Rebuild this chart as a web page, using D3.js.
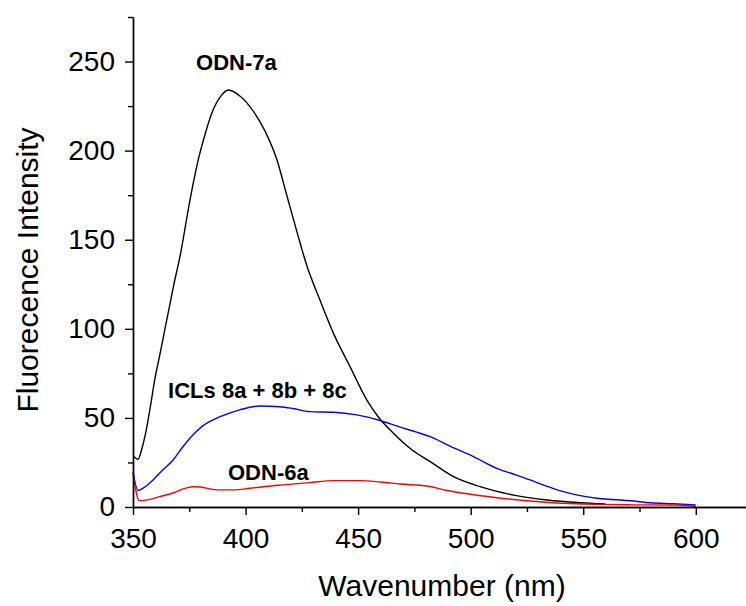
<!DOCTYPE html>
<html>
<head>
<meta charset="utf-8">
<script src="https://cdn.jsdelivr.net/npm/d3@7"></script>
<style>
  body { margin: 0; background: #fff; }
  svg text { font-family: "Liberation Sans", Arial, sans-serif; }
</style>
</head>
<body>
<svg id="chart" width="746" height="606"></svg>
<script>
// ODN-7a (black)
const odn7aX = [350, 352.2, 354, 355.9, 357.8, 359.6, 362, 365, 368, 371.4, 374, 376.8, 379, 381.3, 385, 388.7, 392.4, 397.6, 403.5, 408.7, 413.9, 418.3, 422.7, 427.2, 433.1, 439, 446.4, 453.9, 459, 466, 474, 482, 492.4, 504.2, 519, 533.9, 548.7, 559.8]
const odn7aY = [29, 26.8, 33, 43.3, 57, 71, 86, 105, 124, 144, 163, 182, 195, 206, 221, 230, 234, 230.5, 222, 210.8, 195, 175, 155, 135.5, 116, 97.6, 78.8, 60, 50.5, 41, 32, 25.5, 17, 11.4, 6.7, 3.9, 2.4, 1.7]
// ICLs 8a + 8b + 8c (blue)
const iclX = [350, 352.2, 355, 358.9, 363, 367.8, 372, 376.7, 381, 387, 392, 397.4, 406.3, 415.2, 421, 428.5, 438.9, 449.4, 459, 468.7, 476, 482, 491, 501.2, 511.6, 519, 526.4, 533, 541.2, 548, 556.1, 563, 570.9, 579.8, 590, 600]
const iclY = [19.8, 9.3, 11, 15.2, 20.5, 26.4, 33.5, 40.5, 45.5, 49.8, 52.3, 54.5, 56.7, 56.3, 55.3, 53.5, 53.2, 51.7, 48.8, 44.8, 42, 39.5, 34, 28.3, 21.7, 18.5, 15.2, 12, 8.6, 6.5, 4.9, 4.2, 3.5, 2.4, 1.8, 1.1]
// ODN-6a (red)
const odn6aX = [350, 352.8, 355, 361.9, 368, 372, 376.7, 380, 387, 394.8, 401.9, 409, 416.7, 428.5, 438.9, 451, 460, 468.7, 482, 489, 496.8, 511.6, 526.4, 541.2, 556.1, 572.6, 591.9, 600]
const odn6aY = [18.9, 3.6, 3.7, 5.8, 8, 10, 11.4, 11.2, 9.6, 9.6, 10.5, 11.5, 12.4, 13.7, 14.8, 14.8, 14, 12.9, 11.5, 9.4, 7.7, 5.2, 3.4, 2.1, 1.5, 1.2, 1.1, 0.3]

const xTicks = [350, 400, 450, 500, 550, 600]
const xMinor = [375, 425, 475, 525, 575, 625]
const yTicks = [0, 50, 100, 150, 200, 250]
const yMinor = [25, 75, 125, 175, 225, 275]

const series = [
  { name: 'ODN-7a', xs: odn7aX, ys: odn7aY, color: '#000000' },
  { name: 'ICLs 8a + 8b + 8c', xs: iclX, ys: iclY, color: '#0000ff' },
  { name: 'ODN-6a', xs: odn6aX, ys: odn6aY, color: '#ff0000' }
]

// annotation anchors in data units
const labels = [
  { text: 'ODN-7a', x: 378, y: 245.5 },
  { text: 'ICLs 8a + 8b + 8c', x: 365.6, y: 61.2 },
  { text: 'ODN-6a', x: 392.2, y: 15.2 }
]

const svg = d3.select('#chart')
const x = d3.scaleLinear().domain([350, 622.3]).range([133, 746])
const y = d3.scaleLinear().domain([0, 275]).range([507, 17])

const line = d3.line().x(d => x(d[0])).y(d => y(d[1])).curve(d3.curveMonotoneX)

const plotG = svg.append('g')
series.forEach(s => {
  plotG.append('path')
    .datum(s.xs.map((v, i) => [v, s.ys[i]]))
    .attr('d', line)
    .attr('fill', 'none')
    .attr('stroke', s.color)
    .attr('stroke-width', 1.4)
    .attr('stroke-linejoin', 'round')
})

// axes
svg.append('g').attr('transform', 'translate(0,507)')
  .call(d3.axisBottom(x).tickValues(xTicks).tickSize(8).tickPadding(13).tickSizeOuter(0))
svg.append('g').attr('transform', 'translate(0,507)')
  .call(d3.axisBottom(x).tickValues(xMinor).tickSize(5).tickFormat('').tickSizeOuter(0))
svg.append('g').attr('transform', 'translate(133,0)')
  .call(d3.axisLeft(y).tickValues(yTicks).tickSize(8).tickPadding(10).tickSizeOuter(0))
svg.append('g').attr('transform', 'translate(133,0)')
  .call(d3.axisLeft(y).tickValues(yMinor).tickSize(5).tickFormat('').tickSizeOuter(0))

svg.selectAll('.domain, .tick line').attr('stroke', '#000').attr('stroke-width', 1.4)
svg.selectAll('.tick text').attr('font-size', 28).attr('fill', '#000')
  .style('font-family', '"Liberation Sans", Arial, sans-serif')

// axis titles
svg.append('text')
  .attr('x', 442).attr('y', 596)
  .attr('text-anchor', 'middle')
  .attr('font-size', 30)
  .text('Wavenumber (nm)')
svg.append('text')
  .attr('transform', 'translate(38,270) rotate(-90)')
  .attr('text-anchor', 'middle')
  .attr('font-size', 30)
  .text('Fluorecence Intensity')

// curve annotations
svg.append('g').selectAll('text').data(labels).enter().append('text')
  .attr('x', d => x(d.x))
  .attr('y', d => y(d.y))
  .attr('font-size', 22)
  .attr('font-weight', 'bold')
  .text(d => d.text)
</script>
</body>
</html>
